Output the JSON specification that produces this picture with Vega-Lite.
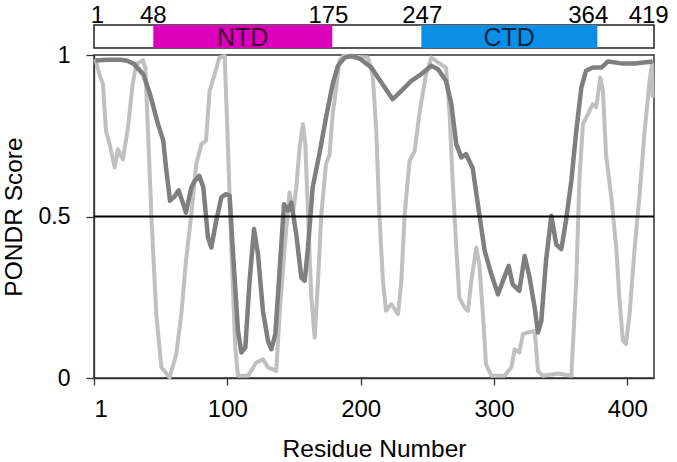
{
  "$schema": "https://vega.github.io/schema/vega-lite/v6.json",
  "padding": {"left": 0, "top": 3, "right": 4, "bottom": 0},
  "bounds": "flush",
  "config": {
    "font": "Liberation Sans",
    "view": {"stroke": null},
    "axis": {"grid": false, "domainColor": "#333333", "domainWidth": 1.3, "tickColor": "#333333", "tickWidth": 1.3, "labelColor": "#000000", "titleColor": "#000000", "titleFontWeight": "normal", "labelFont": "Liberation Sans", "titleFont": "Liberation Sans"}
  },
  "datasets": {
    "bar": [{"start": 0, "end": 420}],
    "domains": [
      {"domain": "NTD", "start": 44.5, "end": 178.7, "mid": 111.5},
      {"domain": "CTD", "start": 245.5, "end": 377.5, "mid": 311.3}
    ],
    "labels": [
      {"label": "1", "pos": 2.5},
      {"label": "48", "pos": 44.5},
      {"label": "175", "pos": 175.8},
      {"label": "247", "pos": 246.2},
      {"label": "364", "pos": 370.7},
      {"label": "419", "pos": 416}
    ],
    "half": [{"y": 0.5}],
    "dark": [
      {"res": 1, "score": 0.983}, {"res": 10, "score": 0.985}, {"res": 20, "score": 0.985}, {"res": 25, "score": 0.982},
      {"res": 30, "score": 0.972}, {"res": 37, "score": 0.94}, {"res": 42, "score": 0.879}, {"res": 48, "score": 0.786},
      {"res": 52, "score": 0.734}, {"res": 54, "score": 0.652}, {"res": 57, "score": 0.549}, {"res": 60, "score": 0.56},
      {"res": 63.5, "score": 0.581}, {"res": 66, "score": 0.55}, {"res": 69, "score": 0.512}, {"res": 73, "score": 0.59},
      {"res": 75.5, "score": 0.61}, {"res": 79, "score": 0.626}, {"res": 82, "score": 0.59}, {"res": 85.5, "score": 0.435},
      {"res": 88, "score": 0.404}, {"res": 91.7, "score": 0.487}, {"res": 95.5, "score": 0.559}, {"res": 99, "score": 0.569},
      {"res": 101.7, "score": 0.565}, {"res": 104, "score": 0.404}, {"res": 108, "score": 0.146}, {"res": 110.5, "score": 0.079},
      {"res": 113.5, "score": 0.094}, {"res": 116.7, "score": 0.301}, {"res": 120, "score": 0.461}, {"res": 123, "score": 0.383},
      {"res": 126.7, "score": 0.208}, {"res": 130.5, "score": 0.115}, {"res": 133, "score": 0.089}, {"res": 136, "score": 0.136},
      {"res": 139, "score": 0.321}, {"res": 142.5, "score": 0.538}, {"res": 145.5, "score": 0.518}, {"res": 148, "score": 0.543},
      {"res": 151.7, "score": 0.445}, {"res": 155.5, "score": 0.311}, {"res": 158, "score": 0.301}, {"res": 160.5, "score": 0.404},
      {"res": 164, "score": 0.59}, {"res": 169, "score": 0.693}, {"res": 174, "score": 0.806}, {"res": 179, "score": 0.91},
      {"res": 183, "score": 0.967}, {"res": 188, "score": 0.992}, {"res": 193, "score": 0.997}, {"res": 200, "score": 0.987},
      {"res": 208, "score": 0.961}, {"res": 215.5, "score": 0.915}, {"res": 224, "score": 0.863}, {"res": 230.5, "score": 0.889},
      {"res": 238, "score": 0.92}, {"res": 245.5, "score": 0.941}, {"res": 253, "score": 0.967}, {"res": 258, "score": 0.956},
      {"res": 264, "score": 0.92}, {"res": 268, "score": 0.848}, {"res": 271.7, "score": 0.724}, {"res": 275.5, "score": 0.683},
      {"res": 279, "score": 0.693}, {"res": 284, "score": 0.65}, {"res": 289, "score": 0.507}, {"res": 293, "score": 0.394},
      {"res": 298, "score": 0.321}, {"res": 303, "score": 0.259}, {"res": 306.7, "score": 0.301}, {"res": 311, "score": 0.347},
      {"res": 314, "score": 0.29}, {"res": 319, "score": 0.27}, {"res": 323, "score": 0.378}, {"res": 326.7, "score": 0.311},
      {"res": 330.5, "score": 0.218}, {"res": 333, "score": 0.141}, {"res": 335.5, "score": 0.177}, {"res": 339, "score": 0.363},
      {"res": 343, "score": 0.502}, {"res": 346.7, "score": 0.414}, {"res": 350.5, "score": 0.399}, {"res": 354, "score": 0.487},
      {"res": 358, "score": 0.61}, {"res": 361.7, "score": 0.765}, {"res": 365.5, "score": 0.899}, {"res": 369, "score": 0.951},
      {"res": 374, "score": 0.961}, {"res": 380.5, "score": 0.961}, {"res": 385.5, "score": 0.98}, {"res": 395.5, "score": 0.974},
      {"res": 405.5, "score": 0.974}, {"res": 419, "score": 0.98}
    ],
    "light": [
      {"res": 1, "score": 0.988}, {"res": 4, "score": 0.94}, {"res": 6.7, "score": 0.91}, {"res": 9, "score": 0.765},
      {"res": 11.7, "score": 0.724}, {"res": 15.5, "score": 0.652}, {"res": 18, "score": 0.708}, {"res": 21.7, "score": 0.677},
      {"res": 25.5, "score": 0.776}, {"res": 29, "score": 0.91}, {"res": 31.7, "score": 0.972}, {"res": 36.7, "score": 0.984},
      {"res": 38.5, "score": 0.961}, {"res": 40.5, "score": 0.765}, {"res": 43, "score": 0.507}, {"res": 46.7, "score": 0.198},
      {"res": 50.5, "score": 0.033}, {"res": 56.7, "score": 0.002}, {"res": 61.7, "score": 0.074}, {"res": 65.5, "score": 0.198},
      {"res": 69, "score": 0.363}, {"res": 73, "score": 0.507}, {"res": 76.7, "score": 0.662}, {"res": 80.5, "score": 0.724},
      {"res": 84, "score": 0.734}, {"res": 86.7, "score": 0.889}, {"res": 90.5, "score": 0.94}, {"res": 94, "score": 0.992},
      {"res": 98, "score": 0.997}, {"res": 100.5, "score": 0.713}, {"res": 103, "score": 0.404}, {"res": 106, "score": 0.094},
      {"res": 108, "score": 0.007}, {"res": 115.5, "score": 0.007}, {"res": 121.7, "score": 0.048}, {"res": 126.7, "score": 0.058},
      {"res": 130.5, "score": 0.033}, {"res": 136.7, "score": 0.022}, {"res": 139.2, "score": 0.198}, {"res": 143, "score": 0.404},
      {"res": 146.7, "score": 0.575}, {"res": 149.2, "score": 0.507}, {"res": 151.7, "score": 0.59}, {"res": 154.2, "score": 0.713},
      {"res": 156.7, "score": 0.786}, {"res": 158.5, "score": 0.724}, {"res": 160.5, "score": 0.507}, {"res": 163, "score": 0.249},
      {"res": 165.5, "score": 0.125}, {"res": 168, "score": 0.301}, {"res": 170.5, "score": 0.507}, {"res": 174, "score": 0.662},
      {"res": 176.7, "score": 0.693}, {"res": 179, "score": 0.817}, {"res": 181.7, "score": 0.899}, {"res": 184, "score": 0.982},
      {"res": 187, "score": 0.997}, {"res": 205.5, "score": 0.992}, {"res": 209, "score": 0.94}, {"res": 211.7, "score": 0.765},
      {"res": 214, "score": 0.507}, {"res": 216.7, "score": 0.301}, {"res": 219, "score": 0.208}, {"res": 223, "score": 0.229},
      {"res": 228, "score": 0.198}, {"res": 230.5, "score": 0.301}, {"res": 233, "score": 0.507}, {"res": 236.7, "score": 0.672},
      {"res": 240.5, "score": 0.703}, {"res": 244, "score": 0.817}, {"res": 249, "score": 0.94}, {"res": 253, "score": 0.992},
      {"res": 258, "score": 0.977}, {"res": 264, "score": 0.961}, {"res": 266.7, "score": 0.817}, {"res": 269, "score": 0.61},
      {"res": 271.7, "score": 0.404}, {"res": 274, "score": 0.249}, {"res": 278, "score": 0.218}, {"res": 280.5, "score": 0.208},
      {"res": 283, "score": 0.301}, {"res": 286.7, "score": 0.404}, {"res": 289, "score": 0.352}, {"res": 291.7, "score": 0.198},
      {"res": 294, "score": 0.043}, {"res": 298, "score": 0.007}, {"res": 308, "score": 0.007}, {"res": 313, "score": 0.033},
      {"res": 315.5, "score": 0.089}, {"res": 319, "score": 0.079}, {"res": 321.7, "score": 0.136}, {"res": 325.5, "score": 0.141},
      {"res": 330.5, "score": 0.146}, {"res": 333, "score": 0.022}, {"res": 336.7, "score": 0.007}, {"res": 348, "score": 0.014},
      {"res": 358, "score": 0.007}, {"res": 361.7, "score": 0.301}, {"res": 364, "score": 0.61}, {"res": 366.7, "score": 0.786},
      {"res": 370.5, "score": 0.817}, {"res": 374, "score": 0.848}, {"res": 376.7, "score": 0.838}, {"res": 379.7, "score": 0.93},
      {"res": 381.7, "score": 0.889}, {"res": 384, "score": 0.693}, {"res": 388, "score": 0.559}, {"res": 391.7, "score": 0.404},
      {"res": 394, "score": 0.249}, {"res": 396.7, "score": 0.115}, {"res": 399, "score": 0.105}, {"res": 401.7, "score": 0.198},
      {"res": 405.5, "score": 0.404}, {"res": 409, "score": 0.559}, {"res": 413, "score": 0.765}, {"res": 416.7, "score": 0.92},
      {"res": 418.5, "score": 0.972}, {"res": 419, "score": 0.868}
    ]
  },
  "spacing": 7,
  "vconcat": [
    {
      "width": 560,
      "height": 23,
      "layer": [
        {
          "data": {"name": "bar"},
          "mark": {"type": "rect", "fill": "white", "stroke": "#222222", "strokeWidth": 1.5},
          "encoding": {
            "x": {"field": "start", "type": "quantitative", "scale": {"domain": [0, 420], "nice": false, "zero": false}, "axis": null},
            "x2": {"field": "end"}
          }
        },
        {
          "data": {"name": "domains"},
          "mark": {"type": "rect"},
          "encoding": {
            "x": {"field": "start", "type": "quantitative"},
            "x2": {"field": "end"},
            "color": {"field": "domain", "type": "nominal", "scale": {"domain": ["NTD", "CTD"], "range": ["#dd00bb", "#0a8ee6"]}, "legend": null}
          }
        },
        {
          "data": {"name": "domains"},
          "mark": {"type": "text", "fontSize": 25, "color": "#000000", "opacity": 0.72, "baseline": "middle", "align": "center", "dy": 1},
          "encoding": {
            "x": {"field": "mid", "type": "quantitative"},
            "text": {"field": "domain"}
          }
        },
        {
          "data": {"name": "labels"},
          "mark": {"type": "text", "fontSize": 24, "color": "#000000", "baseline": "alphabetic", "align": "center", "dy": -13.8},
          "encoding": {
            "x": {"field": "pos", "type": "quantitative"},
            "text": {"field": "label"}
          }
        }
      ]
    },
    {
      "width": 560,
      "height": 323,
      "view": {"stroke": "#333333", "strokeWidth": 1.5},
      "layer": [
        {
          "data": {"name": "light"},
          "mark": {"type": "line", "color": "#c0c0c0", "strokeWidth": 4, "strokeJoin": "round"},
          "encoding": {
            "x": {"field": "res", "type": "quantitative", "title": "Residue Number",
              "scale": {"domain": [0, 420], "nice": false, "zero": false},
              "axis": {"values": [0, 100, 200, 300, 400], "labelExpr": "datum.value == 0 ? '1' : datum.label", "tickSize": 7, "labelPadding": 12, "labelFontSize": 24, "titleFontSize": 24.5, "titlePadding": 16}},
            "y": {"field": "score", "type": "quantitative", "title": "PONDR Score",
              "scale": {"domain": [0, 1], "nice": false},
              "axis": {"values": [0, 0.5, 1], "format": "~g", "tickSize": 8, "labelPadding": 16, "labelFontSize": 23, "titleFontSize": 24.5, "titlePadding": 12}}
          }
        },
        {
          "data": {"name": "dark"},
          "mark": {"type": "line", "color": "#7f7f7f", "strokeWidth": 4.5, "strokeJoin": "round"},
          "encoding": {
            "x": {"field": "res", "type": "quantitative"},
            "y": {"field": "score", "type": "quantitative"}
          }
        },
        {
          "data": {"name": "half"},
          "mark": {"type": "rule", "color": "#000000", "strokeWidth": 1.8},
          "encoding": {
            "y": {"field": "y", "type": "quantitative"}
          }
        }
      ]
    }
  ]
}
